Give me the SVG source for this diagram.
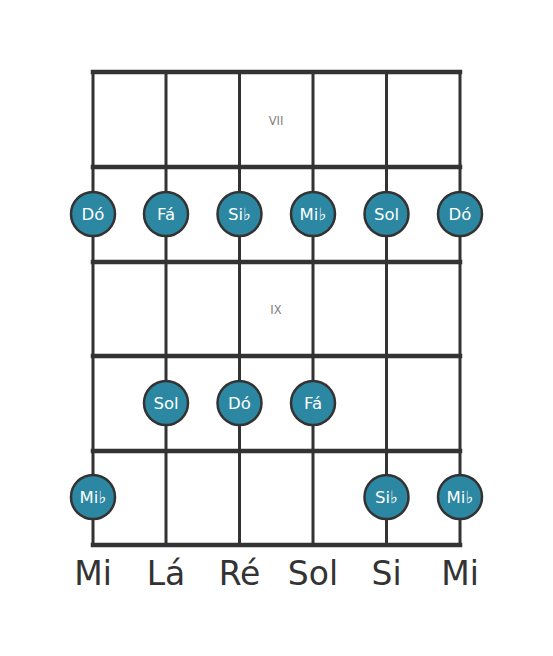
<svg xmlns="http://www.w3.org/2000/svg" width="553" height="656" viewBox="0 0 553 656">
<style>
.fret{stroke:#333;stroke-width:4.5;stroke-linecap:square}
.str{stroke:#333;stroke-width:3}
.note circle{fill:#2b87a2;stroke:#333;stroke-width:2.5}
.note text{fill:#fff;font-family:"DejaVu Sans",sans-serif;font-size:16.5px;text-anchor:middle}
.fl{font-size:17px}
.pos{fill:#808080;font-family:"DejaVu Sans",sans-serif;font-size:11.5px;text-anchor:middle}
.name{fill:#333;font-family:"DejaVu Sans",sans-serif;font-size:33px;text-anchor:middle}
</style>
<rect width="553" height="656" fill="#fff"/>
<g id="connectors">
<line class="str" x1="93" y1="72" x2="93" y2="545"/>
<line class="str" x1="166" y1="72" x2="166" y2="545"/>
<line class="str" x1="239.5" y1="72" x2="239.5" y2="545"/>
<line class="str" x1="313" y1="72" x2="313" y2="545"/>
<line class="str" x1="386.5" y1="72" x2="386.5" y2="545"/>
<line class="str" x1="460" y1="72" x2="460" y2="545"/>
<line class="fret" x1="93" y1="72" x2="460" y2="72"/>
<line class="fret" x1="93" y1="167" x2="460" y2="167"/>
<line class="fret" x1="93" y1="262" x2="460" y2="262"/>
<line class="fret" x1="93" y1="356" x2="460" y2="356"/>
<line class="fret" x1="93" y1="451" x2="460" y2="451"/>
<line class="fret" x1="93" y1="545" x2="460" y2="545"/>
</g>
<text class="pos" x="276" y="125">VII</text>
<text class="pos" x="276" y="314">IX</text>
<g id="n1" class="note"><circle cx="93" cy="214" r="22"/><text x="93" y="220">Dó</text></g>
<g id="n2" class="note"><circle cx="166" cy="214" r="22"/><text x="166" y="220">Fá</text></g>
<g id="n3" class="note"><circle cx="239.5" cy="214" r="22"/><text x="239.5" y="220">Si<tspan class="fl">♭</tspan></text></g>
<g id="n4" class="note"><circle cx="313" cy="214" r="22"/><text x="313" y="220">Mi<tspan class="fl">♭</tspan></text></g>
<g id="n5" class="note"><circle cx="386.5" cy="214" r="22"/><text x="386.5" y="220">Sol</text></g>
<g id="n6" class="note"><circle cx="460" cy="214" r="22"/><text x="460" y="220">Dó</text></g>
<g id="n7" class="note"><circle cx="166" cy="403" r="22"/><text x="166" y="409">Sol</text></g>
<g id="n8" class="note"><circle cx="239.5" cy="403" r="22"/><text x="239.5" y="409">Dó</text></g>
<g id="n9" class="note"><circle cx="313" cy="403" r="22"/><text x="313" y="409">Fá</text></g>
<g id="n10" class="note"><circle cx="93" cy="497" r="22"/><text x="93" y="503">Mi<tspan class="fl">♭</tspan></text></g>
<g id="n11" class="note"><circle cx="386.5" cy="497" r="22"/><text x="386.5" y="503">Si<tspan class="fl">♭</tspan></text></g>
<g id="n12" class="note"><circle cx="460" cy="497" r="22"/><text x="460" y="503">Mi<tspan class="fl">♭</tspan></text></g>
<g id="labels">
<text class="name" x="93" y="585">Mi</text>
<text class="name" x="166" y="585">Lá</text>
<text class="name" x="239.5" y="585">Ré</text>
<text class="name" x="313" y="585">Sol</text>
<text class="name" x="386.5" y="585">Si</text>
<text class="name" x="460" y="585">Mi</text>
</g>
</svg>
